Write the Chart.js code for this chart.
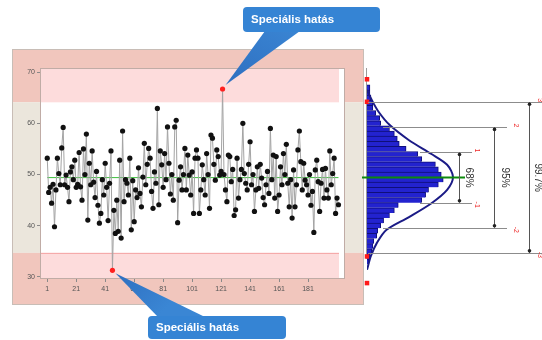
<!DOCTYPE html>
<html><head><meta charset="utf-8">
<script src="https://cdn.jsdelivr.net/npm/chart.js@4"></script>
<style>
html,body{margin:0;padding:0;background:#fff;overflow:hidden}
#wrap{position:relative;width:542px;height:340px}
canvas{position:absolute;top:0}
</style></head>
<body><div id="wrap">
<canvas id="c1" width="542" height="340" style="left:0"></canvas>
<canvas id="c2" width="187" height="340" style="left:355px"></canvas>
</div>
<script>
// ---- data ----
const xTicks = [1, 21, 41, 61, 81, 101, 121, 141, 161, 181];
const yTicks = [30, 40, 50, 60, 70];
const values = [
53.2,46.5,47.5,44.4,48.1,39.8,47,53.2,50.2,48,55.2,59.2,48,49.9,47.5,44.7,50.5,51.5,49,52.8,
47.5,48.1,54.3,47.6,45,55,50,57.9,41.1,52.2,48,54.6,48.5,45.5,50.6,44,40.5,42.4,49,46,
52.2,47.5,41,48.3,54.6,31.3,43,38.5,45,38.9,52.8,37.6,58.5,44.7,49,48.3,46,53.2,39.2,48.8,
40.8,47,45.5,51.3,46.3,43.7,49.5,56.1,48,52,55.1,53.2,46.7,43.4,50.5,48.3,62.9,44.1,54.6,51.9,
47.5,54.1,49,59.3,52.2,46.2,50,45,59.3,60.6,40.6,48.9,51.5,47,50,55.1,47,53.8,49.9,46,
50.5,42.4,53.2,54.8,53.2,42.4,47,51.9,49,46,54.1,50,43.4,57.7,57.1,52,48.9,54.8,53.5,49.9,
50.6,66.7,50,47,44.7,53.8,53.5,48.6,51,42,43.1,53.2,45.4,49,51,60,50.2,48.3,47,52,
56.4,48,50,42.8,47,51.5,47.3,52,49.3,45.5,44.1,48,50.6,46.3,59,49,53.8,45.4,53.5,42.8,
46,51.5,48,54.1,50,55.9,48.3,43.7,49,41.5,50.9,43.7,48,54.8,58.5,52.5,47,52.2,48.9,48,
46,50,44,46.7,38.7,50.9,52.8,48.6,42.8,48.3,51,45.4,51.2,47,45.4,54.6,48,50.2,53.2,42.4,
45.4,44.1];
const meanValue = 49.4;
const sigmaValue = 4.9;
const histBins = [67,66,65,64,63,62,61,60,59,58,57,56,55,54,53,52,51,50,49,48,47,46,45,44,43,42,41,40,39,38,37,36,35,34,33];
const histFreq = [3,3,4,6,6,9,13,14,23,28,31,33,40,52,56,70,73,76,78,73,63,60,56,32,28,23,17,14,11,10,7,6,5,3,2];
const curveValues = [66.5,64.5,62.2,59.7,56.7,54.0,51.9,49.5,47.0,44.4,41.7,39.2,36.6,34.1,31.4];
const curveFreq   = [0,5,12,23,43,66,82,88,82,66,43,20,10,4,0];
const markValues = [68.6, 64.2, 34.0, 28.8];
const sigmaLevels = [1, 2, 3];
const percentLabels = ['68%', '95%', '99.7%'];
const calloutText = 'Speciális hatás';

const FONT = "'Liberation Sans', Arial, sans-serif";
const ucl = meanValue + 3 * sigmaValue, lcl = meanValue - 3 * sigmaValue;
const pointColors = values.map(v => (v > ucl || v < lcl) ? '#ff2020' : '#111');

function rrect(ctx, x, y, w, h, r) {
  ctx.beginPath();
  ctx.moveTo(x + r, y); ctx.lineTo(x + w - r, y); ctx.quadraticCurveTo(x + w, y, x + w, y + r);
  ctx.lineTo(x + w, y + h - r); ctx.quadraticCurveTo(x + w, y + h, x + w - r, y + h);
  ctx.lineTo(x + r, y + h); ctx.quadraticCurveTo(x, y + h, x, y + h - r);
  ctx.lineTo(x, y + r); ctx.quadraticCurveTo(x, y, x + r, y); ctx.closePath();
}

const framePlugin = {
  id: 'frame',
  beforeDraw(chart) {
    const {ctx, chartArea: a, scales: {y}} = chart;
    const yU = y.getPixelForValue(ucl), yL = y.getPixelForValue(lcl);
    const L = 12, R = 363, T = 49, B = 304;
    ctx.save();
    ctx.fillStyle = '#f1c6bd'; ctx.fillRect(L, T, R - L, yU - T);
    ctx.fillStyle = '#ebe6dc'; ctx.fillRect(L, yU, R - L, yL - yU);
    ctx.fillStyle = '#f1c6bd'; ctx.fillRect(L, yL, R - L, B - yL);
    ctx.strokeStyle = '#c8bdb6'; ctx.lineWidth = 1; ctx.strokeRect(L + 0.5, T + 0.5, R - L, B - T);
    ctx.fillStyle = '#ffffff'; ctx.fillRect(a.left, a.top, a.width, a.height);
    ctx.fillStyle = '#fddcdc';
    ctx.fillRect(a.left, a.top, a.width - 6, yU - a.top);
    ctx.fillRect(a.left, yL, a.width - 6, a.bottom - yL);
    ctx.strokeStyle = '#f4a3a3'; ctx.beginPath(); ctx.moveTo(a.left, yL + 0.5); ctx.lineTo(a.right - 6, yL + 0.5); ctx.stroke();
    ctx.strokeStyle = '#c0aca6'; ctx.strokeRect(a.left + 0.5, a.top + 0.5, a.width - 1, a.height - 1);
    ctx.restore();
  },
  afterDatasetsDraw(chart) {
    const {ctx} = chart;
    const meta = chart.getDatasetMeta(0);
    const hiIdx = values.findIndex(v => v > ucl);
    const loIdx = values.findIndex(v => v < lcl);
    ctx.save();
    const drawCallout = (idx, box, base, dy) => {
      const p = meta.data[idx];
      const tx = p.x + 3, ty = p.y + dy;
      const grad = ctx.createLinearGradient(tx, ty, base[0], box.y);
      grad.addColorStop(0, '#2f6fc0'); grad.addColorStop(1, '#3a86d4');
      ctx.fillStyle = grad;
      ctx.beginPath(); ctx.moveTo(tx, ty); ctx.lineTo(base[0], base[2]); ctx.lineTo(base[1], base[2]); ctx.closePath(); ctx.fill();
      ctx.fillStyle = '#3584d4';
      rrect(ctx, box.x, box.y, box.w, box.h, 4); ctx.fill();
      ctx.fillStyle = '#ffffff';
      ctx.font = 'bold 11.5px ' + FONT;
      ctx.textAlign = 'left'; ctx.textBaseline = 'middle';
      ctx.fillText(calloutText, box.x + 8, box.y + box.h / 2 + 0.5);
    };
    if (hiIdx >= 0) drawCallout(hiIdx, {x: 243, y: 7, w: 137, h: 25}, [265, 300, 31], -4);
    if (loIdx >= 0) drawCallout(loIdx, {x: 148, y: 316, w: 138, h: 23}, [158, 205, 317], 3);
    ctx.restore();
  }
};

new Chart(document.getElementById('c1'), {
  type: 'line',
  data: {
    datasets: [
      {
        data: values.map((v, i) => ({x: i + 1, y: v})),
        borderColor: '#a4a4a4', borderWidth: 1, tension: 0,
        pointRadius: 2.6, pointBackgroundColor: pointColors, pointBorderWidth: 0, pointHoverRadius: 2.6
      },
      {
        data: [{x: 1, y: meanValue}, {x: values.length, y: meanValue}],
        borderColor: '#3cbf3c', borderWidth: 1, pointRadius: 0
      }
    ]
  },
  options: {
    responsive: false, animation: false, devicePixelRatio: 1,
    layout: {padding: {left: 12, right: 197, top: 68, bottom: 41}},
    plugins: {legend: {display: false}, tooltip: {enabled: false}},
    scales: {
      x: {
        type: 'linear', min: -4, max: 206.5,
        afterBuildTicks: s => { s.ticks = xTicks.map(v => ({value: v})); },
        afterFit: s => { s.height = 20; },
        grid: {drawOnChartArea: false, tickLength: 3, color: '#8a8a8a'},
        border: {display: false},
        ticks: {font: {size: 7, family: FONT}, color: '#555', padding: 3, autoSkip: false, maxRotation: 0}
      },
      y: {
        type: 'linear', min: 29.6, max: 70.8,
        afterBuildTicks: s => { s.ticks = yTicks.map(v => ({value: v})); },
        afterFit: s => { s.width = 28; },
        grid: {drawOnChartArea: false, tickLength: 3, color: '#8a8a8a'},
        border: {display: false},
        ticks: {font: {size: 7, family: FONT}, color: '#555', padding: 2}
      }
    }
  },
  plugins: [framePlugin]
});

const OFF = 355;
const histPlugin = {
  id: 'hist',
  beforeDatasetsDraw(chart) {
    const {ctx, chartArea: a, scales: {y}} = chart;
    ctx.save();
    ctx.strokeStyle = '#9a9a9a'; ctx.lineWidth = 1;
    ctx.beginPath(); ctx.moveTo(a.left - 0.5, a.top); ctx.lineTo(a.left - 0.5, y.getPixelForValue(lcl) + 6); ctx.stroke();
    ctx.restore();
  },
  afterDatasetsDraw(chart) {
    const {ctx, scales: {x, y}} = chart;
    ctx.save();
    const ym = y.getPixelForValue(meanValue);
    ctx.strokeStyle = '#0c8a0c'; ctx.lineWidth = 2;
    ctx.beginPath(); ctx.moveTo(362 - OFF, ym); ctx.lineTo(x.getPixelForValue(Math.max(...curveFreq)) + 12, ym); ctx.stroke();
    const hx = [[420, 472], [383, 507], [368, 542]];
    const vx = [459, 494, 529];
    const px = [469, 505, 538];
    const sx = [477, 516, 540];
    sigmaLevels.forEach((k, i) => {
      const yTop = y.getPixelForValue(meanValue + k * sigmaValue);
      const yBot = y.getPixelForValue(meanValue - k * sigmaValue);
      ctx.strokeStyle = '#8c8c8c'; ctx.lineWidth = 1;
      [yTop, yBot].forEach(yy => {
        ctx.beginPath(); ctx.moveTo(hx[i][0] - OFF, Math.round(yy) + 0.5); ctx.lineTo(hx[i][1] - OFF, Math.round(yy) + 0.5); ctx.stroke();
      });
      ctx.strokeStyle = '#555';
      ctx.beginPath(); ctx.moveTo(vx[i] - OFF + 0.5, yTop); ctx.lineTo(vx[i] - OFF + 0.5, yBot); ctx.stroke();
      ctx.fillStyle = '#222';
      [yTop + 2, yBot - 2].forEach(yy => { ctx.beginPath(); ctx.arc(vx[i] - OFF + 0.5, yy, 1.8, 0, Math.PI * 2); ctx.fill(); });
      ctx.save();
      ctx.translate(px[i] - OFF, (yTop + yBot) / 2);
      ctx.rotate(Math.PI / 2);
      ctx.fillStyle = '#333'; ctx.font = '10px ' + FONT; ctx.textAlign = 'center'; ctx.textBaseline = 'middle';
      ctx.fillText(percentLabels[i], 0, 0);
      ctx.restore();
      [[yTop - 2, String(k)], [yBot + 2, '-' + k]].forEach(([yy, t]) => {
        ctx.save();
        ctx.translate(sx[i] - OFF, yy);
        ctx.rotate(Math.PI / 2);
        ctx.fillStyle = '#ee2a2a'; ctx.font = '7px ' + FONT; ctx.textAlign = 'center'; ctx.textBaseline = 'middle';
        ctx.fillText(t, 0, 0);
        ctx.restore();
      });
    });
    ctx.restore();
  }
};

new Chart(document.getElementById('c2'), {
  type: 'bar',
  data: {
    datasets: [
      {
        type: 'line', indexAxis: 'y',
        data: curveValues.map((v, i) => ({x: curveFreq[i], y: v})),
        borderColor: '#1b1b86', borderWidth: 2, pointRadius: 0, tension: 0.3, fill: false
      },
      {
        type: 'scatter',
        data: markValues.map(v => ({x: 0, y: v})),
        pointStyle: 'rect', pointRadius: 3.2, backgroundColor: '#ff1a1a', borderWidth: 0, clip: false
      },
      {
        type: 'bar',
        data: histBins.map((b, i) => ({x: histFreq[i], y: b})),
        backgroundColor: '#2323cf', borderColor: '#0f0f7a', borderWidth: {top: 1, bottom: 0, left: 0, right: 1},
        barPercentage: 1, categoryPercentage: 1
      }
    ]
  },
  options: {
    indexAxis: 'y',
    responsive: false, animation: false, devicePixelRatio: 1,
    layout: {padding: {left: 12, right: 0, top: 68, bottom: 47.7}},
    plugins: {legend: {display: false}, tooltip: {enabled: false}},
    scales: {
      x: {type: 'linear', min: 0, max: 175, display: false, offset: false},
      y: {type: 'linear', min: 27, max: 70.8, display: false, offset: false}
    }
  },
  plugins: [histPlugin]
});
</script>
</body></html>
